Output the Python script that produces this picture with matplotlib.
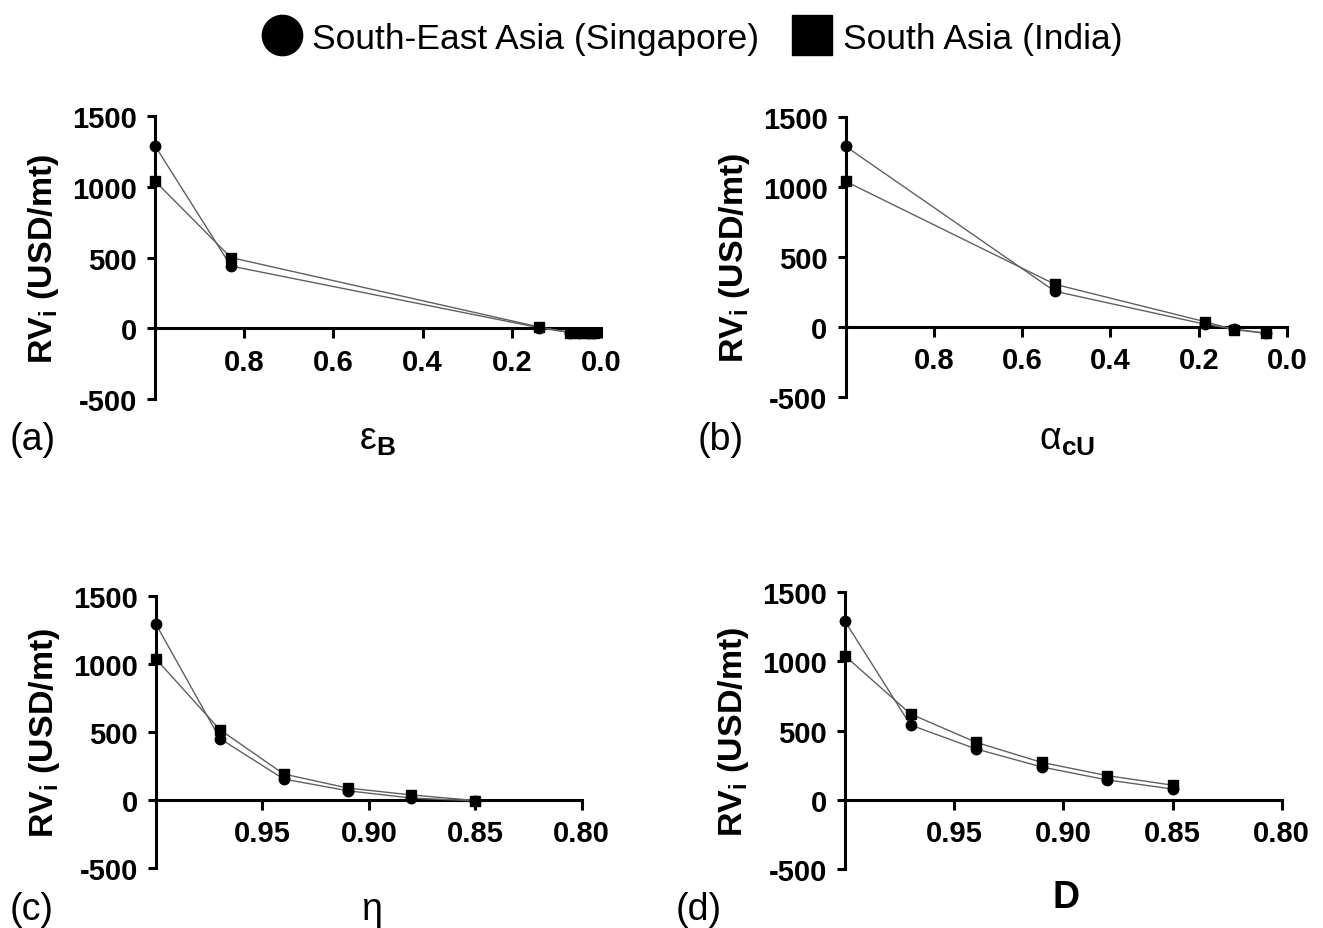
import matplotlib.pyplot as plt
from matplotlib.lines import Line2D
from matplotlib.ticker import FormatStrFormatter

plt.rcParams['font.family'] = ['Liberation Sans', 'DejaVu Sans']
plt.rcParams['mathtext.fontset'] = 'custom'
plt.rcParams['mathtext.rm'] = 'Liberation Sans'
plt.rcParams['mathtext.bf'] = 'Liberation Sans:bold'
plt.rcParams['mathtext.it'] = 'Liberation Sans:italic'
plt.rcParams['axes.unicode_minus'] = False

# data
eps_b = [1.0, 0.83, 0.14, 0.07, 0.05, 0.03, 0.015]
eps_sg = [1290, 440, 5, -30, -30, -30, -30]
eps_in = [1040, 500, 10, -30, -30, -30, -30]

alpha_cu = [1.0, 0.526, 0.186, 0.12, 0.047]
alpha_sg = [1290, 255, 20, -15, -45]
alpha_in = [1040, 305, 38, -19, -45]

eta = [1.0, 0.97, 0.94, 0.91, 0.88, 0.85]
eta_sg = [1290, 450, 152, 66, 12, -8]
eta_in = [1035, 515, 189, 86, 35, -6]

d_val = [1.0, 0.97, 0.94, 0.91, 0.88, 0.85]
d_sg = [1290, 540, 367, 237, 143, 77]
d_in = [1040, 620, 415, 270, 174, 105]

ylabel = r"$\mathbf{RV_i}$ (USD/mt)"

panels = [
    dict(rect=[0.1172, 0.5694, 0.3371, 0.3046], x=eps_b, sg=eps_sg, ind=eps_in,
         xlim=(1.0, 0.0), xticks=[0.8, 0.6, 0.4, 0.2, 0.0], fmt='%.1f',
         xlabel=r"$\mathrm{ε}_{\mathbf{B}}$", xl=(377, 440), tag='(a)', tl=(10, 440)),
    dict(rect=[0.6392, 0.5716, 0.3336, 0.3014], x=alpha_cu, sg=alpha_sg, ind=alpha_in,
         xlim=(1.0, 0.0), xticks=[0.8, 0.6, 0.4, 0.2, 0.0], fmt='%.1f',
         xlabel=r"$\mathrm{α}_{\mathbf{cU}}$", xl=(1067, 440), tag='(b)', tl=(698, 440)),
    dict(rect=[0.1179, 0.0649, 0.3218, 0.2928], x=eta, sg=eta_sg, ind=eta_in,
         xlim=(1.0, 0.8), xticks=[0.95, 0.90, 0.85, 0.80], fmt='%.2f',
         xlabel="η", xl=(371, 910), tag='(c)', tl=(10, 910)),
    dict(rect=[0.6387, 0.0637, 0.3301, 0.2977], x=d_val, sg=d_sg, ind=d_in,
         xlim=(1.0, 0.8), xticks=[0.95, 0.90, 0.85, 0.80], fmt='%.2f',
         xlabel=r"$\mathbf{D}$", xl=(1066, 898), tag='(d)', tl=(676, 910)),
]

W, H = 1323, 929
fig = plt.figure(figsize=(W / 100, H / 100), dpi=100)

for p in panels:
    ax = fig.add_axes(p['rect'])
    ax.plot(p['x'], p['sg'], color='#606060', lw=1.0, marker='o', ms=7.5,
            mfc='black', mec='black', clip_on=False, zorder=3)
    ax.plot(p['x'], p['ind'], color='#606060', lw=1.0, marker='s', ms=7.5,
            mfc='black', mec='black', clip_on=False, zorder=3)
    ax.set_xlim(*p['xlim'])
    ax.set_ylim(-500, 1500)
    ax.set_yticks([-500, 0, 500, 1000, 1500])
    ax.set_xticks(p['xticks'])
    ax.xaxis.set_major_formatter(FormatStrFormatter(p['fmt']))
    ax.spines['top'].set_visible(False)
    ax.spines['right'].set_visible(False)
    ax.spines['bottom'].set_position(('data', 0))
    ax.spines['left'].set_linewidth(2.2)
    ax.spines['bottom'].set_linewidth(2.2)
    ax.tick_params(axis='y', direction='out', length=6, width=2.2, pad=7,
                   labelsize=21)
    ax.tick_params(axis='x', direction='out', length=7, width=2.2, pad=7,
                   labelsize=21)
    for lab in ax.get_xticklabels() + ax.get_yticklabels():
        lab.set_fontweight('bold')
    ax.set_ylabel(ylabel, fontsize=24.5, fontweight='bold', labelpad=8)
    ax.patch.set_visible(False)
    fig.text(p['xl'][0] / W, 1 - p['xl'][1] / H, p['xlabel'], fontsize=27,
             ha='center', va='center')
    fig.text(p['tl'][0] / W, 1 - p['tl'][1] / H, p['tag'], fontsize=27,
             ha='left', va='center')

handles = [
    Line2D([], [], ls='none', marker='o', ms=29, color='black'),
    Line2D([], [], ls='none', marker='s', ms=29, color='black'),
]
fig.legend(handles, ['South-East Asia (Singapore)', 'South Asia (India)'],
           loc='upper center', bbox_to_anchor=(0.5227, 1.01), ncol=2,
           frameon=False, fontsize=25.5, handletextpad=0.25, columnspacing=0.9,
           handlelength=1.2)

fig.savefig('out.png', dpi=100)
